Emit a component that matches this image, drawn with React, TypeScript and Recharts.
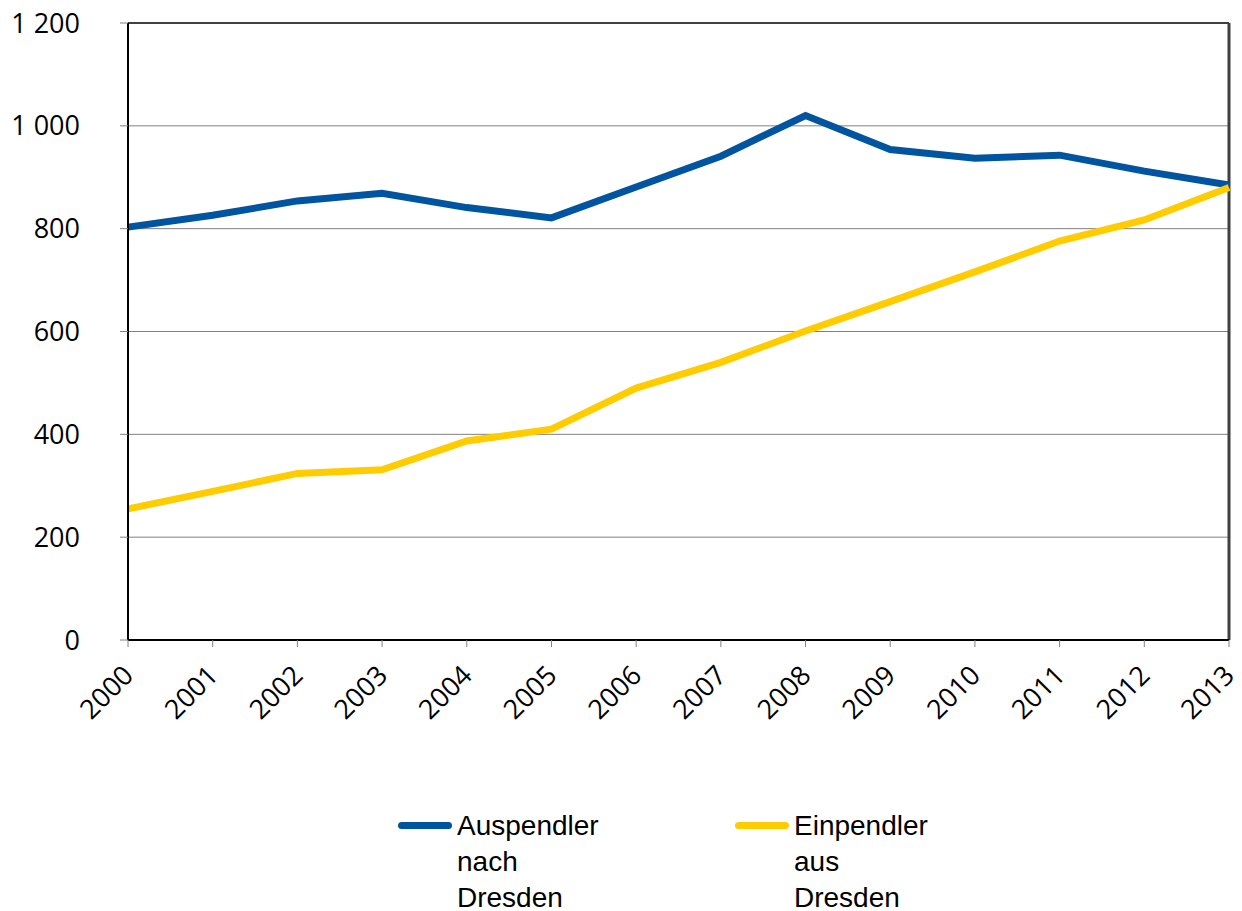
import React from 'react';
import { LineChart, Line, XAxis, YAxis, CartesianGrid, ReferenceLine, Legend } from 'recharts';

const years = ['2000', '2001', '2002', '2003', '2004', '2005', '2006', '2007', '2008', '2009', '2010', '2011', '2012', '2013'];
const auspendler = [803, 826, 854, 869, 841, 821, 881, 941, 1020, 954, 937, 943, 912, 885];
const einpendler = [255, 289, 324, 331, 387, 410, 490, 540, 601, 658, 716, 776, 817, 880];
const yTicks = [0, 200, 400, 600, 800, 1000, 1200];
const seriesNames = ['Auspendler nach Dresden', 'Einpendler aus Dresden'];
const seriesColors = ['#0054A0', '#FFCC00'];

const data = years.map((y, i) => ({ year: y, aus: auspendler[i], ein: einpendler[i] }));

const fmt = (v: number) => {
  const s = String(v);
  return s.length > 3 ? s.slice(0, s.length - 3) + ' ' + s.slice(s.length - 3) : s;
};

const XTick = (props: any) => {
  const { x, y, payload } = props;
  return (
    <g transform={`translate(${x + 7},${y + 28})`}>
      <text x={0} y={0} transform="rotate(-45)" textAnchor="end" fill="#000" fontSize={27} fontFamily="'Open Sans', sans-serif">
        {payload.value}
      </text>
    </g>
  );
};

const legendLefts = [398, 735];

const LegendContent = (props: any) => {
  const payload = props.payload || [];
  return (
    <div style={{ position: 'relative', width: 1242, height: 111, fontFamily: "'Liberation Sans', sans-serif", fontSize: 28, color: '#000' }}>
      {payload.map((p: any, i: number) => (
        <div key={i}>
          <div style={{ position: 'absolute', left: legendLefts[i], top: 22, width: 54, height: 7, borderRadius: 4, background: p.color }} />
          <div style={{ position: 'absolute', left: legendLefts[i] + 59, top: 8, width: 220, lineHeight: '36px', whiteSpace: 'pre-line', textAlign: 'left' }}>
            {String(p.value).split(' ').join('\n')}
          </div>
        </div>
      ))}
    </div>
  );
};

export default function App() {
  return (
    <div style={{ position: 'absolute', left: 0, top: 0, width: 1242, height: 911, background: '#fff' }}>
      <LineChart width={1242} height={911} data={data} margin={{ top: 23, right: 13, left: 0, bottom: 0 }}>
        <CartesianGrid vertical={false} stroke="#808080" strokeWidth={1} />
        <XAxis
          dataKey="year"
          scale="point"
          padding={{ left: 0, right: 0 }}
          height={160}
          interval={0}
          tick={<XTick />}
          tickSize={7}
          tickLine={{ stroke: '#808080' }}
          axisLine={{ stroke: '#000', strokeWidth: 2 }}
        />
        <YAxis
          domain={[0, 1200]}
          ticks={yTicks}
          width={128}
          tickSize={8}
          tickMargin={40}
          tickFormatter={fmt}
          tick={{ fill: '#000', fontSize: 27, fontFamily: "'Open Sans', sans-serif" }}
          tickLine={{ stroke: '#808080' }}
          axisLine={{ stroke: '#000', strokeWidth: 2 }}
        />
        <ReferenceLine y={1200} stroke="#404040" strokeWidth={2} />
        <ReferenceLine x="2013" stroke="#404040" strokeWidth={3} />
        <Line type="linear" dataKey="aus" name={seriesNames[0]} stroke={seriesColors[0]} strokeWidth={7} dot={false} isAnimationActive={false} />
        <Line type="linear" dataKey="ein" name={seriesNames[1]} stroke={seriesColors[1]} strokeWidth={7} dot={false} isAnimationActive={false} />
        <Legend
          content={<LegendContent />}
          wrapperStyle={{ position: 'absolute', top: 800, left: 0, width: 1242, height: 111 }}
        />
      </LineChart>
    </div>
  );
}
